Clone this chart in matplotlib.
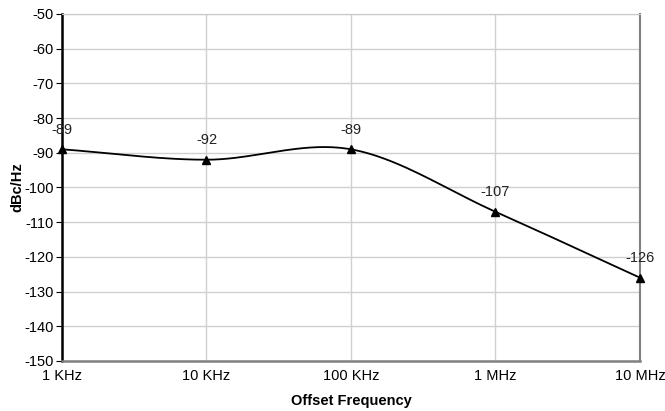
import numpy as np
import matplotlib.pyplot as plt

plt.rcParams['font.family'] = ['Liberation Sans', 'DejaVu Sans']
plt.rcParams['axes.unicode_minus'] = False

# Данные: фазовый шум
freq = [1e3, 1e4, 1e5, 1e6, 1e7]
noise = [-89, -92, -89, -107, -126]
tick_labels = ['1 KHz', '10 KHz', '100 KHz', '1 MHz', '10 MHz']


# Сглаживание как в Excel (Catmull-Rom в лог-координатах)
def smooth(x, y, n=40):
    x = np.asarray(x, float)
    y = np.asarray(y, float)
    px = np.concatenate([[2 * x[0] - x[1]], x, [2 * x[-1] - x[-2]]])
    py = np.concatenate([[2 * y[0] - y[1]], y, [2 * y[-1] - y[-2]]])
    xs, ys = [], []
    t = np.linspace(0, 1, n)
    for i in range(1, len(px) - 2):
        for p, out in ((px, xs), (py, ys)):
            p0, p1, p2, p3 = p[i - 1], p[i], p[i + 1], p[i + 2]
            out.append(0.5 * (2 * p1 + (-p0 + p2) * t
                              + (2 * p0 - 5 * p1 + 4 * p2 - p3) * t**2
                              + (-p0 + 3 * p1 - 3 * p2 + p3) * t**3))
    return np.concatenate(xs), np.concatenate(ys)


lx, ly = smooth(np.log10(freq), noise)

fig = plt.figure(figsize=(6.65, 4.11), dpi=100)
ax = fig.add_axes([0.0932, 0.1217, 0.8692, 0.8443])

ax.plot(10**lx, ly, color='black', lw=1.3, zorder=3, clip_on=False)
ax.plot(freq, noise, linestyle='none', marker='^', color='black', ms=6,
        zorder=4, clip_on=False)
for f, v in zip(freq, noise):
    ax.annotate(str(v), (f, v), xytext=(0, 9), textcoords='offset points',
                ha='center', va='bottom', fontsize=10.5, color='#222222')

ax.set_xscale('log')
ax.set_xlim(1e3, 1e7)
ax.set_ylim(-150, -50)
ax.set_yticks(np.arange(-150, -49, 10))
ax.set_xticks(freq)
ax.set_xticklabels(tick_labels)
ax.minorticks_off()
ax.grid(True, color='#d0d0d0', lw=1)
ax.set_axisbelow(True)

ax.spines['left'].set_color('black')
ax.spines['left'].set_linewidth(1.8)
ax.spines['bottom'].set_color('#808080')
ax.spines['bottom'].set_linewidth(1.8)
ax.spines['right'].set_color('#808080')
ax.spines['right'].set_linewidth(1.5)
ax.spines['top'].set_color('#c8c8c8')
ax.tick_params(axis='y', length=4, color='black', labelsize=10.5, pad=2)
ax.tick_params(axis='x', length=0, labelsize=10.5, pad=6)

ax.set_xlabel('Offset Frequency', fontweight='bold', fontsize=10.5, labelpad=8)
ax.set_ylabel('dBc/Hz', fontweight='bold', fontsize=10.5, labelpad=0)

fig.savefig('out.png', dpi=100)
